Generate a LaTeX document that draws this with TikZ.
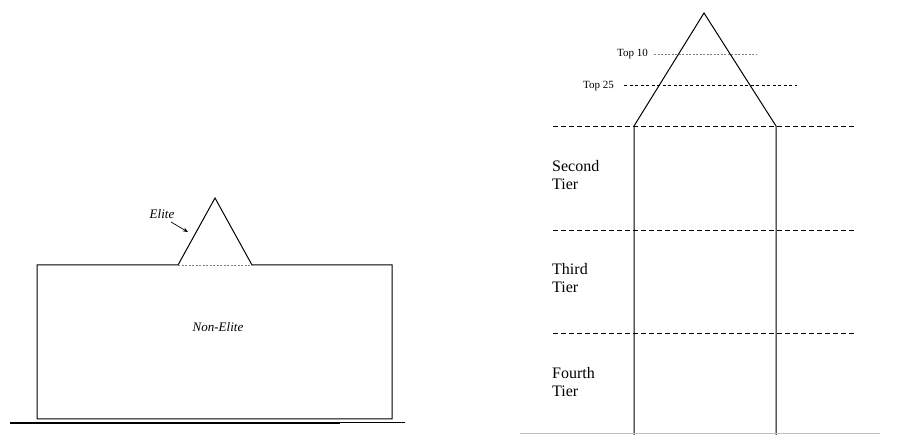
\documentclass[tikz,border=0pt]{standalone}
\usepackage{fontspec}
\setmainfont{Liberation Serif}
\usetikzlibrary{arrows.meta}
\begin{document}
\begin{tikzpicture}[x=1pt,y=-1pt,
  solidline/.style={draw=black,line width=1pt},
  tierline/.style={draw=black,line width=0.9pt,dash pattern=on 5pt off 3pt},
  dotline/.style={draw=gray,line width=0.6pt,dash pattern=on 2pt off 1.5pt},
  toplabel/.style={anchor=east,inner sep=0pt,font=\fontsize{11}{12}\selectfont},
  tierlabel/.style={anchor=north west,inner sep=0pt,align=left,font=\fontsize{16}{18}\selectfont},
  italabel/.style={inner sep=0pt,font=\fontsize{13}{14}\selectfont\itshape}]
\useasboundingbox (0,0) rectangle (916,435);
% ---------- left panel ----------
\coordinate (rtl) at (37,265);
\coordinate (rbr) at (392,419);
\coordinate (eb1) at (178,265);
\coordinate (eb2) at (252,265);
\coordinate (eap) at (215,198);
\draw[solidline] (eb1) -- (rtl) |- (rbr) |- (eb2) -- (eap) -- (eb1);
\draw[dotline] (eb1) -- (eb2);
\node[italabel] (elite) at (162,214) {Elite};
\coordinate (earr) at (188,232);
\draw[-{Stealth[length=5pt,width=4pt]},line width=0.7pt] (171,222) -- (earr);
\node[italabel] (nonelite) at (218,327) {Non-Elite};
\coordinate (bl1) at (10,423);
\coordinate (bl2) at (340,423);
\coordinate (bl3) at (405,423);
\draw[line width=2pt] (bl1) -- (bl2);
\draw[line width=1pt] (bl2) -- (bl3);
% ---------- right panel ----------
\coordinate (ap) at (704,13);
\coordinate (pl) at (634,126);
\coordinate (pr) at (776,126);
\coordinate (ll) at (634,435);
\coordinate (lr) at (776,435);
\draw[solidline] (ll) -- (pl) -- (ap) -- (pr) -- (lr);
% tier lines
\coordinate (t1a) at (553,126); \coordinate (t1b) at (856,126);
\coordinate (t2a) at (553,230); \coordinate (t2b) at (856,230);
\coordinate (t3a) at (553,333); \coordinate (t3b) at (856,333);
\draw[tierline] (t1a) -- (t1b);
\draw[tierline] (t2a) -- (t2b);
\draw[tierline] (t3a) -- (t3b);
% top lines
\node[toplabel] (top10) at (648,54) {Top 10};
\node[toplabel] (top25) at (614,86) {Top 25};
\coordinate (s10) at (654,54);
\coordinate (d10) at (757,54);
\coordinate (s25) at (624,85);
\coordinate (d25) at (797,85);
\draw[dotline] (s10) -- (d10);
\draw[line width=0.7pt,dash pattern=on 3pt off 2.5pt] (s25) -- (d25);
% tier labels
\node[tierlabel] (second) at (552,160) {Second\\Tier};
\node[tierlabel] (third) at (552,263) {Third\\Tier};
\node[tierlabel] (fourth) at (552,367) {Fourth\\Tier};
\coordinate (g1) at (520,433); \coordinate (g2) at (880,433);
\draw[gray!50,line width=0.8pt] (g1) -- (g2);
\end{tikzpicture}
\end{document}
